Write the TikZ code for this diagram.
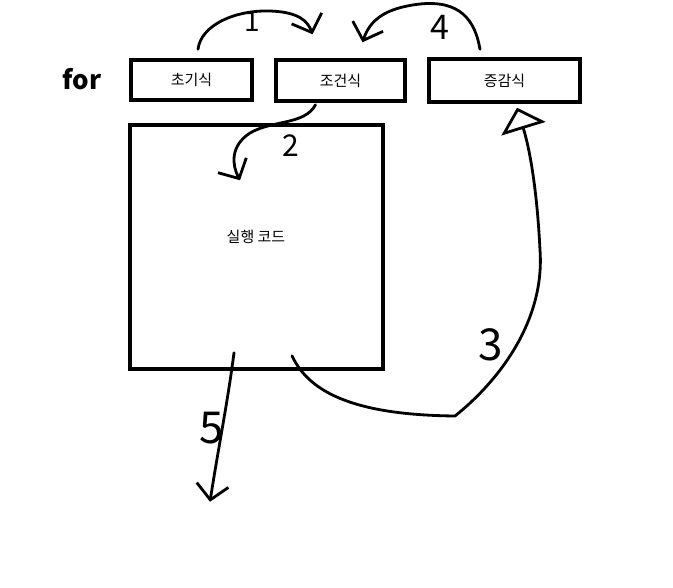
\documentclass[tikz,border=0pt]{standalone}
\usepackage{fontspec}
\setmainfont{Noto Sans CJK KR}
\usetikzlibrary{arrows.meta}
\begin{document}
\begin{tikzpicture}[x=1pt,y=-1pt,
    box/.style={draw,line width=3.5pt,inner sep=0pt,font=\fontsize{15}{15}\selectfont},
    hand/.style={line width=2.8pt,line cap=round,line join=round},
    barb/.style={-{Straight Barb[length=15pt,width=32pt]}},
    num/.style={font=\fontsize{34}{34}\selectfont}]
\useasboundingbox (0,0) rectangle (673,588);
\node[font=\fontsize{26}{26}\selectfont\bfseries] (kw) at (82,79) {for};
\node[box,minimum width=121pt,minimum height=40pt] (init) at (191.5,80) {초기식};
\node[box,minimum width=129pt,minimum height=41pt] (cond) at (340.5,80.5) {조건식};
\node[box,minimum width=151pt,minimum height=43pt] (step) at (504.5,80.5) {증감식};
\node[box,minimum width=253pt,minimum height=244pt] (body) at (256.5,247) {};
\node[font=\fontsize{15}{15}\selectfont] (code) at (256,237) {실행 코드};
% 1
\draw[hand,barb] ([xshift=6.5pt,yshift=9pt]init.north)
    .. controls (201,25) and (235,10) .. (270,11)
    .. controls (300,12) and (308,22) .. ([xshift=-28pt,yshift=24pt]cond.north);
\node[num,font=\fontsize{28}{28}\selectfont] (n1) at (252,22) {1};
% 4
\draw[hand,barb] ([xshift=-24.5pt,yshift=8pt]step.north)
    .. controls (475,20) and (460,0) .. (420,4)
    .. controls (385,8) and (370,20) .. ([xshift=22pt,yshift=16pt]cond.north);
\node[num] (n4) at (440,27) {4};
% 2
\draw[hand,barb] ([xshift=-25pt,yshift=-2pt]cond.south)
    .. controls (305,125) and (272,120) .. (250,133)
    .. controls (230,146) and (232,165) .. ([xshift=-16.5pt,yshift=-57pt]body.north);
\node[num,font=\fontsize{30}{30}\selectfont] (n2) at (291,146) {2};
% 3
\draw[hand,-{Triangle[open,length=22pt,width=46pt]}] ([xshift=35.5pt,yshift=15pt]body.south)
    .. controls (310,395) and (360,415) .. (455,416)
    .. controls (500,380) and (545,320) .. (540,250)
    .. controls (537,190) and (530,150) .. ([xshift=12.5pt,yshift=-4pt]step.south);
\node[num,font=\fontsize{44}{44}\selectfont] (n3) at (491,345) {3};
% 5
\draw[hand,barb] ([xshift=-22.5pt,yshift=18pt]body.south)
    .. controls (228,400) and (218,450) .. ([xshift=-46.5pt,yshift=-131pt]body.south);
\node[num,font=\fontsize{44}{44}\selectfont] (n5) at (212,428) {5};
\end{tikzpicture}
\end{document}
